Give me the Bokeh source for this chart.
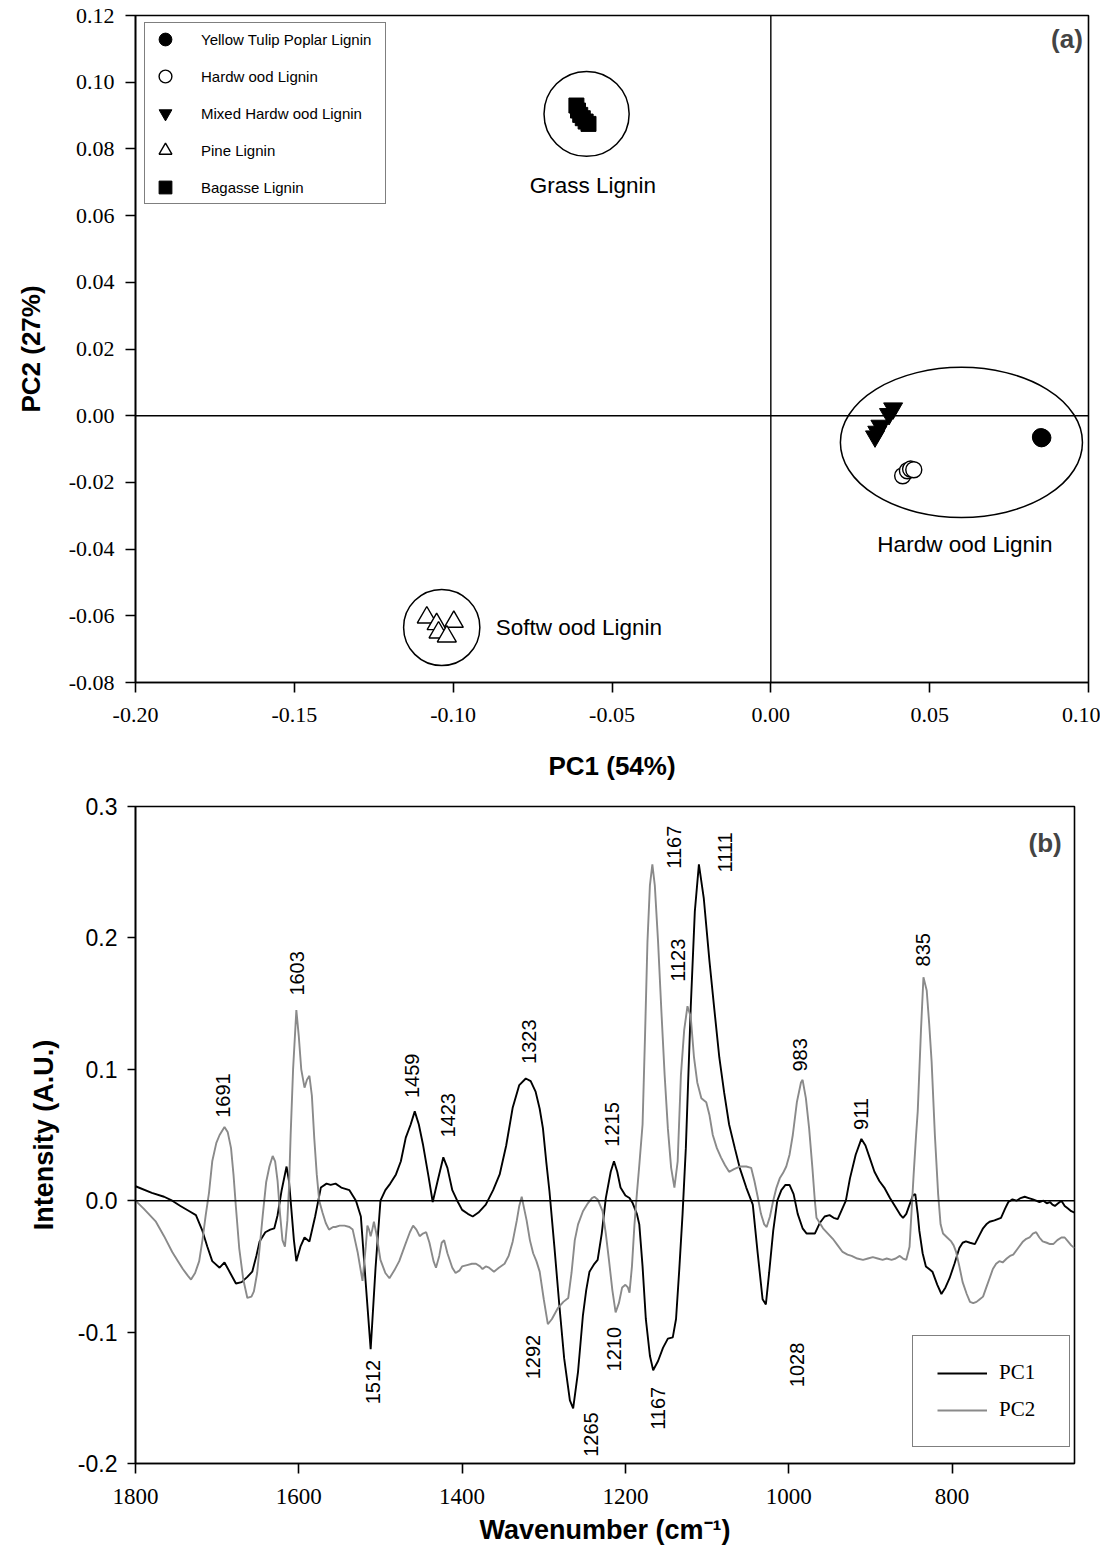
import math
from bokeh.plotting import figure
from bokeh.layouts import column
from bokeh.models import (Range1d, FixedTicker, PrintfTickFormatter, Legend, LegendItem,
                          Span, Label)
from bokeh.embed import file_html
from bokeh.resources import INLINE
from bokeh.core.properties import value

# ---------------- panel (a) data: PCA scores ----------------
yellow_pc1 = [0.0852, 0.0855, 0.0850]
yellow_pc2 = [-0.0068, -0.0066, -0.0064]
hardwood_pc1 = [0.0415, 0.0430, 0.0440, 0.0450]
hardwood_pc2 = [-0.0180, -0.0165, -0.0160, -0.0162]
mixed_pc1 = [0.0385, 0.0372, 0.0345, 0.0335, 0.0328]
mixed_pc2 = [0.0022, 0.0005, -0.0030, -0.0048, -0.0062]
pine_pc1 = [-0.1083, -0.1052, -0.0998, -0.1046, -0.1020]
pine_pc2 = [-0.0605, -0.0625, -0.0618, -0.0650, -0.0662]
bagasse_pc1 = [-0.0612, -0.0607, -0.0600, -0.0592, -0.0583, -0.0574]
bagasse_pc2 = [0.0930, 0.0915, 0.0902, 0.0892, 0.0882, 0.0875]

group_names = ["Grass Lignin", "Hardw ood Lignin", "Softw ood Lignin"]
group_cx = [-0.0580, 0.0600, -0.1036]
group_cy = [0.0905, -0.0080, -0.0635]
group_w = [0.0268, 0.0762, 0.0240]
group_h = [0.0255, 0.0450, 0.0228]
group_label_x = [-0.0560, 0.0611, -0.0866]
group_label_y = [0.0690, -0.0387, -0.0635]

pc1_ticks = [-0.20, -0.15, -0.10, -0.05, 0.00, 0.05, 0.10]
pc2_ticks = [-0.08, -0.06, -0.04, -0.02, 0.00, 0.02, 0.04, 0.06, 0.08, 0.10, 0.12]

# ---------------- panel (b) data: loadings spectra ----------------
pc1_wn = [1800, 1780, 1765, 1755, 1745, 1734, 1726, 1718, 1712, 1706, 1697, 1691, 1684, 1677, 1670,
          1663, 1657, 1652, 1648, 1641, 1635, 1630, 1626, 1621, 1615, 1612, 1610, 1606, 1603, 1598,
          1593, 1587, 1580, 1573, 1566, 1561, 1555, 1548, 1538, 1530, 1524, 1518, 1512, 1506, 1500,
          1494, 1488, 1481, 1475, 1469, 1463, 1458, 1453, 1448, 1441, 1436, 1430, 1423, 1418, 1412,
          1406, 1400, 1393, 1387, 1380, 1371, 1362, 1354, 1346, 1338, 1330, 1322, 1316, 1310, 1305,
          1301, 1297, 1293, 1287, 1281, 1275, 1268, 1264, 1258, 1252, 1248, 1244, 1238, 1234, 1229,
          1224, 1218, 1214, 1210, 1206, 1200, 1195, 1191, 1186, 1183, 1179, 1175, 1170, 1166, 1160,
          1154, 1148, 1142, 1138, 1134, 1130, 1126, 1120, 1115, 1110, 1104, 1097, 1091, 1085, 1079,
          1073, 1066, 1060, 1052, 1044, 1038, 1032, 1028, 1024, 1019, 1014, 1009, 1004, 999, 994,
          989, 983, 978, 972, 968, 962, 956, 950, 945, 940, 935, 930, 925, 918, 911,
          906, 901, 895, 889, 883, 876, 869, 863, 860, 856, 852, 848, 845, 842, 840,
          836, 832, 828, 824, 818, 813, 808, 803, 797, 791, 787, 783, 778, 772, 767,
          762, 758, 754, 748, 740, 735, 731, 726, 721, 716, 711, 706, 701, 697, 693,
          688, 684, 680, 677, 674, 670, 666, 662, 658, 654, 650]
pc1_int = [0.011, 0.006, 0.003, 0.000, -0.004, -0.008, -0.011, -0.023, -0.035, -0.046, -0.051, -0.047, -0.055, -0.063, -0.062,
           -0.058, -0.054, -0.042, -0.031, -0.024, -0.022, -0.021, -0.011, 0.008, 0.026, 0.015, 0.000, -0.030, -0.046, -0.035,
           -0.028, -0.031, -0.012, 0.010, 0.013, 0.012, 0.013, 0.010, 0.008, 0.000, -0.012, -0.063, -0.113, -0.051, 0.000,
           0.008, 0.013, 0.020, 0.030, 0.048, 0.058, 0.068, 0.058, 0.043, 0.018, -0.001, 0.015, 0.033, 0.025, 0.008,
           0.000, -0.007, -0.010, -0.012, -0.009, -0.003, 0.008, 0.020, 0.042, 0.071, 0.088, 0.093, 0.091, 0.083, 0.070,
           0.055, 0.030, 0.007, -0.035, -0.079, -0.120, -0.152, -0.158, -0.130, -0.087, -0.068, -0.054, -0.048, -0.045, -0.025,
           0.002, 0.022, 0.030, 0.022, 0.010, 0.004, 0.002, -0.002, -0.010, -0.018, -0.050, -0.090, -0.118, -0.129, -0.122,
           -0.112, -0.105, -0.104, -0.090, -0.052, -0.010, 0.040, 0.147, 0.220, 0.256, 0.230, 0.182, 0.145, 0.109, 0.082,
           0.058, 0.040, 0.025, 0.010, -0.003, -0.040, -0.075, -0.079, -0.055, -0.023, 0.000, 0.008, 0.012, 0.012, 0.005,
           -0.010, -0.021, -0.025, -0.025, -0.025, -0.017, -0.012, -0.011, -0.013, -0.014, -0.007, 0.000, 0.017, 0.035, 0.047,
           0.042, 0.033, 0.022, 0.015, 0.010, 0.002, -0.005, -0.011, -0.013, -0.010, -0.003, 0.004, 0.005, -0.010, -0.023,
           -0.040, -0.050, -0.052, -0.054, -0.064, -0.071, -0.066, -0.059, -0.048, -0.036, -0.032, -0.031, -0.032, -0.033, -0.027,
           -0.021, -0.018, -0.016, -0.015, -0.013, -0.006, -0.001, 0.001, 0.000, 0.002, 0.003, 0.002, 0.001, 0.000, -0.001,
           0.000, -0.002, -0.001, -0.003, -0.004, -0.002, 0.000, -0.004, -0.006, -0.008, -0.009]

pc2_wn = [1800, 1790, 1775, 1765, 1755, 1748, 1742, 1736, 1732, 1727, 1722, 1718, 1714, 1710, 1706,
          1701, 1697, 1691, 1687, 1683, 1680, 1677, 1673, 1668, 1663, 1658, 1655, 1651, 1648, 1644,
          1640, 1636, 1632, 1629, 1626, 1623, 1620, 1617, 1614, 1612, 1610, 1607, 1603, 1600, 1597,
          1593, 1590, 1587, 1584, 1581, 1578, 1575, 1571, 1567, 1563, 1558, 1555, 1550, 1544, 1538,
          1534, 1528, 1522, 1518, 1516, 1514, 1512, 1510, 1508, 1505, 1500, 1494, 1489, 1483, 1477,
          1470, 1464, 1460, 1456, 1452, 1448, 1444, 1440, 1435, 1432, 1428, 1425, 1422, 1418, 1412,
          1408, 1403, 1400, 1394, 1388, 1383, 1378, 1375, 1371, 1367, 1361, 1355, 1348, 1343, 1338,
          1333, 1330, 1327, 1324, 1321, 1317, 1313, 1309, 1305, 1300, 1295, 1290, 1283, 1276, 1270,
          1266, 1262, 1258, 1252, 1246, 1241, 1238, 1234, 1228, 1224, 1220, 1216, 1212, 1208, 1204,
          1200, 1197, 1195, 1192, 1189, 1186, 1183, 1179, 1176, 1173, 1170, 1167, 1164, 1160, 1156,
          1152, 1148, 1144, 1140, 1136, 1132, 1128, 1124, 1120, 1116, 1112, 1107, 1101, 1097, 1093,
          1088, 1083, 1078, 1073, 1067, 1060, 1052, 1046, 1042, 1038, 1034, 1030, 1027, 1023, 1019,
          1015, 1011, 1007, 1003, 999, 995, 990, 985, 983, 979, 975, 971, 968, 966, 962,
          958, 952, 946, 940, 934, 928, 923, 916, 909, 903, 897, 891, 885, 880, 874,
          869, 864, 860, 856, 852, 850, 847, 844, 842, 838, 835, 831, 828, 825, 821,
          817, 814, 811, 806, 801, 798, 795, 791, 787, 782, 778, 774, 770, 766, 762,
          758, 754, 750, 746, 742, 738, 733, 729, 725, 719, 713, 709, 705, 701, 697,
          693, 689, 684, 680, 676, 671, 666, 662, 658, 654, 650]
pc2_int = [0.000, -0.006, -0.016, -0.027, -0.039, -0.046, -0.052, -0.057, -0.060, -0.055, -0.046, -0.030, -0.011, 0.006, 0.030,
           0.044, 0.050, 0.056, 0.052, 0.040, 0.020, -0.005, -0.036, -0.060, -0.074, -0.073, -0.069, -0.055, -0.036, -0.010,
           0.014, 0.026, 0.034, 0.030, 0.015, -0.010, -0.030, -0.035, -0.015, 0.010, 0.050, 0.100, 0.145, 0.125, 0.100,
           0.086, 0.092, 0.095, 0.080, 0.047, 0.020, 0.000, -0.009, -0.017, -0.022, -0.020, -0.020, -0.019, -0.019, -0.020,
           -0.022, -0.039, -0.061, -0.035, -0.019, -0.022, -0.027, -0.022, -0.016, -0.025, -0.045, -0.055, -0.059, -0.053, -0.046,
           -0.034, -0.024, -0.019, -0.022, -0.027, -0.025, -0.024, -0.032, -0.046, -0.051, -0.042, -0.032, -0.030, -0.040, -0.051,
           -0.055, -0.053, -0.050, -0.049, -0.048, -0.048, -0.050, -0.052, -0.050, -0.051, -0.054, -0.051, -0.048, -0.042, -0.031,
           -0.015, -0.004, 0.003, -0.006, -0.015, -0.030, -0.040, -0.046, -0.054, -0.075, -0.094, -0.090, -0.082, -0.077, -0.074,
           -0.055, -0.030, -0.018, -0.008, -0.002, 0.002, 0.003, 0.001, -0.008, -0.025, -0.046, -0.068, -0.085, -0.078, -0.066,
           -0.064, -0.066, -0.070, -0.050, -0.019, 0.005, 0.027, 0.058, 0.125, 0.197, 0.240, 0.256, 0.240, 0.197, 0.145,
           0.096, 0.055, 0.025, 0.010, 0.030, 0.096, 0.130, 0.148, 0.140, 0.109, 0.090, 0.078, 0.075, 0.065, 0.050,
           0.040, 0.033, 0.027, 0.022, 0.024, 0.026, 0.026, 0.025, 0.015, 0.003, -0.010, -0.018, -0.020, -0.012, 0.000,
           0.010, 0.017, 0.021, 0.026, 0.035, 0.050, 0.075, 0.090, 0.092, 0.078, 0.055, 0.025, 0.000, -0.013, -0.017,
           -0.021, -0.025, -0.029, -0.034, -0.039, -0.041, -0.042, -0.044, -0.045, -0.044, -0.043, -0.044, -0.045, -0.044, -0.045,
           -0.044, -0.042, -0.044, -0.045, -0.035, -0.013, 0.020, 0.050, 0.068, 0.130, 0.170, 0.160, 0.135, 0.106, 0.050,
           0.005, -0.018, -0.025, -0.028, -0.031, -0.034, -0.039, -0.050, -0.062, -0.071, -0.077, -0.078, -0.077, -0.075, -0.073,
           -0.066, -0.059, -0.052, -0.048, -0.046, -0.047, -0.044, -0.042, -0.041, -0.036, -0.031, -0.029, -0.028, -0.025, -0.024,
           -0.028, -0.031, -0.032, -0.033, -0.033, -0.030, -0.028, -0.028, -0.031, -0.034, -0.036]

peak_text = ["1691", "1603", "1459", "1423", "1323", "1215", "1167", "1111", "1123", "983", "911", "835",
             "1512", "1292", "1265", "1210", "1167", "1028"]
peak_x = [1693, 1602, 1461, 1417, 1318, 1217, 1141, 1078, 1135, 986, 911, 835,
          1509, 1313, 1242, 1214, 1160, 990]
peak_y = [0.080, 0.173, 0.095, 0.065, 0.121, 0.058, 0.269, 0.265, 0.183, 0.111, 0.066, 0.191,
          -0.138, -0.119, -0.178, -0.113, -0.158, -0.125]

wn_ticks = [1800, 1600, 1400, 1200, 1000, 800]
int_ticks = [-0.2, -0.1, 0.0, 0.1, 0.2, 0.3]

SANS = "Liberation Sans"
SERIF = "Liberation Serif"


def style_axes(p):
    p.xgrid.visible = False
    p.ygrid.visible = False
    p.outline_line_color = "black"
    p.outline_line_width = 1.6
    p.outline_line_alpha = 1.0
    p.background_fill_color = "white"
    p.border_fill_color = "white"
    for ax in (p.xaxis[0], p.yaxis[0]):
        ax.axis_line_width = 1.6
        ax.axis_line_color = "black"
        ax.major_tick_in = 0
        ax.major_tick_out = 10
        ax.major_tick_line_width = 1.6
        ax.minor_tick_line_color = None
        ax.major_label_text_color = "black"
        ax.axis_label_text_font = SANS
        ax.axis_label_text_font_style = "bold"
        ax.axis_label_text_color = "black"


# ---------------- figure (a) ----------------
p1 = figure(frame_width=953, frame_height=667, min_border_left=131, min_border_top=15,
            min_border_right=16, min_border_bottom=100,
            x_range=Range1d(-0.20, 0.10), y_range=Range1d(-0.08, 0.12),
            output_backend="svg", toolbar_location=None)
style_axes(p1)
p1.xaxis.ticker = FixedTicker(ticks=pc1_ticks)
p1.yaxis.ticker = FixedTicker(ticks=pc2_ticks)
p1.xaxis.formatter = PrintfTickFormatter(format="%.2f")
p1.yaxis.formatter = PrintfTickFormatter(format="%.2f")
for ax in (p1.xaxis[0], p1.yaxis[0]):
    ax.major_label_text_font = SERIF
    ax.major_label_text_font_size = "22px"
    ax.axis_label_text_font_size = "26px"
p1.xaxis.major_label_standoff = 15
p1.yaxis.major_label_standoff = 11
p1.xaxis.axis_label = "PC1 (54%)"
p1.yaxis.axis_label = "PC2 (27%)"
p1.xaxis.axis_label_standoff = 26
p1.yaxis.axis_label_standoff = 20

p1.add_layout(Span(location=0, dimension="width", line_color="black", line_width=1.4))
p1.add_layout(Span(location=0, dimension="height", line_color="black", line_width=1.4))

p1.ellipse(x=group_cx, y=group_cy, width=group_w, height=group_h,
           fill_color=None, line_color="black", line_width=1.5)

r_yel = p1.scatter(yellow_pc1, yellow_pc2, marker="circle", size=17,
                   fill_color="black", line_color="black")
r_hw = p1.scatter(hardwood_pc1, hardwood_pc2, marker="circle", size=16,
                  fill_color="white", line_color="black", line_width=1.4)
r_mx = p1.scatter(mixed_pc1, mixed_pc2, marker="inverted_triangle", size=19,
                  fill_color="black", line_color="black")
r_pn = p1.scatter(pine_pc1, pine_pc2, marker="triangle", size=19,
                  fill_color="white", line_color="black", line_width=1.4)
r_bg = p1.scatter(bagasse_pc1, bagasse_pc2, marker="square", size=15,
                  fill_color="black", line_color="black")

p1.text(x=group_label_x[:2], y=group_label_y[:2], text=group_names[:2],
        text_font=value(SANS), text_font_size="22.5px", text_align="center",
        text_baseline="middle", text_color="black")
p1.text(x=group_label_x[2:], y=group_label_y[2:], text=group_names[2:],
        text_font=value(SANS), text_font_size="22.5px", text_align="left",
        text_baseline="middle", text_color="black")
p1.add_layout(Label(x=0.0932, y=0.1130, text="(a)", text_font=SANS, text_font_size="26px",
                    text_font_style="bold", text_align="center", text_baseline="middle"))

leg1 = Legend(items=[
    LegendItem(label="Yellow Tulip Poplar Lignin", renderers=[r_yel]),
    LegendItem(label="Hardw ood Lignin", renderers=[r_hw]),
    LegendItem(label="Mixed Hardw ood Lignin", renderers=[r_mx]),
    LegendItem(label="Pine Lignin", renderers=[r_pn]),
    LegendItem(label="Bagasse Lignin", renderers=[r_bg]),
], location=(9, 478), orientation="vertical")
leg1.margin = 0
leg1.padding = 0
leg1.spacing = 5
leg1.glyph_width = 40
leg1.glyph_height = 32
leg1.label_height = 32
leg1.label_width = 184
leg1.label_standoff = 16
leg1.label_text_font = SANS
leg1.label_text_font_size = "15px"
leg1.label_text_color = "black"
leg1.border_line_color = "black"
leg1.border_line_width = 1.6
leg1.background_fill_alpha = 1
p1.add_layout(leg1)

# ---------------- figure (b) ----------------
p2 = figure(frame_width=939, frame_height=657, min_border_left=135, min_border_top=23,
            min_border_right=26, min_border_bottom=84,
            x_range=Range1d(1800, 650), y_range=Range1d(-0.2, 0.3),
            output_backend="svg", toolbar_location=None)
style_axes(p2)
p2.xaxis.ticker = FixedTicker(ticks=wn_ticks)
p2.yaxis.ticker = FixedTicker(ticks=int_ticks)
p2.xaxis.formatter = PrintfTickFormatter(format="%d")
p2.yaxis.formatter = PrintfTickFormatter(format="%.1f")
p2.xaxis.major_label_text_font = SERIF
p2.xaxis.major_label_text_font_size = "23px"
p2.xaxis.major_label_standoff = 15
p2.yaxis.major_label_text_font = SANS
p2.yaxis.major_label_text_font_size = "23px"
p2.yaxis.major_label_standoff = 10
p2.yaxis.major_tick_out = 8
p2.xaxis.axis_label = "Wavenumber (cm\u207b\u00b9)"
p2.yaxis.axis_label = "Intensity (A.U.)"
p2.xaxis.axis_label_text_font_size = "27px"
p2.yaxis.axis_label_text_font_size = "27px"
p2.xaxis.axis_label_standoff = 8
p2.yaxis.axis_label_standoff = 16

p2.add_layout(Span(location=0, dimension="width", line_color="black", line_width=1.4))

r_pc1 = p2.line(pc1_wn, pc1_int, line_color="black", line_width=1.9)
r_pc2 = p2.line(pc2_wn, pc2_int, line_color="#8a8a8a", line_width=1.9)

p2.text(x=peak_x, y=peak_y, text=peak_text, angle=math.pi / 2,
        text_font=value(SANS), text_font_size="20px", text_align="center",
        text_baseline="middle", text_color="black")
p2.add_layout(Label(x=686, y=0.272, text="(b)", text_font=SANS, text_font_size="26px",
                    text_font_style="bold", text_align="center", text_baseline="middle"))

leg2 = Legend(items=[LegendItem(label="PC1", renderers=[r_pc1]),
                     LegendItem(label="PC2", renderers=[r_pc2])],
              location=(777, 16), orientation="vertical")
leg2.margin = 0
leg2.padding = 24
leg2.spacing = 12
leg2.glyph_width = 50
leg2.glyph_height = 20
leg2.label_height = 20
leg2.label_width = 46
leg2.label_standoff = 12
leg2.label_text_font = SERIF
leg2.label_text_font_size = "21px"
leg2.label_text_color = "black"
leg2.border_line_color = "black"
leg2.border_line_width = 1.6
p2.add_layout(leg2)

layout = column(p1, p2, spacing=0)
open("out.html", "w").write(file_html(layout, INLINE))
